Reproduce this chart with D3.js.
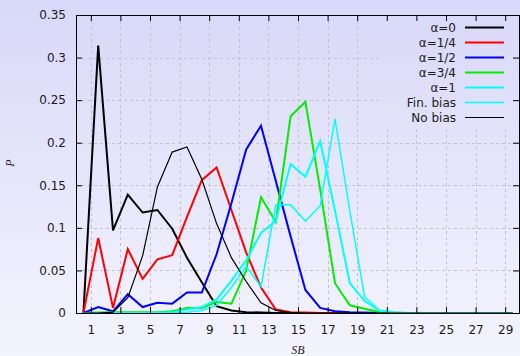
<!DOCTYPE html>
<html>
<head>
<meta charset="utf-8">
<script src="https://d3js.org/d3.v7.min.js"></script>
<style>
  body { margin: 0; }
  svg { display: block; }
  .tick text { font-family: "DejaVu Sans", sans-serif; font-size: 12px; fill: #1a1a1a; }
</style>
</head>
<body>
<div id="chart"></div>
<script>
// bin centres on the SB axis
var sb = [0.5, 1.5, 2.5, 3.5, 4.5, 5.5, 6.5, 7.5, 8.5, 9.5, 10.5, 11.5, 12.5, 13.5, 14.5,
          15.5, 16.5, 17.5, 18.5, 19.5, 20.5, 21.5, 22.5, 23.5, 24.5, 25.5, 26.5, 27.5, 28.5, 29.5];

var alpha0   = [0, 0.314, 0.097, 0.139, 0.118, 0.121, 0.099, 0.065, 0.036, 0.008, 0.003, 0.001, 0.0005, 0, 0,
                0, 0, 0, 0, 0, 0, 0, 0, 0, 0, 0, 0, 0, 0, 0];
var alpha14  = [0, 0.088, 0.006, 0.075, 0.040, 0.063, 0.068, 0.113, 0.156, 0.171, 0.121, 0.071, 0.030, 0.004, 0.001,
                0.0005, 0, 0, 0, 0, 0, 0, 0, 0, 0, 0, 0, 0, 0, 0];
var alpha12  = [0, 0.007, 0.002, 0.022, 0.007, 0.012, 0.011, 0.024, 0.024, 0.069, 0.129, 0.192, 0.220, 0.155, 0.090,
                0.027, 0.006, 0.002, 0.001, 0.0005, 0, 0, 0, 0, 0, 0, 0, 0, 0, 0];
var alpha34  = [0, 0.0005, 0.001, 0.001, 0.001, 0.001, 0.002, 0.006, 0.006, 0.013, 0.011, 0.050, 0.136, 0.107, 0.231,
                0.248, 0.145, 0.035, 0.009, 0.005, 0.001, 0, 0, 0, 0, 0, 0, 0, 0, 0];
var alpha1   = [0, 0, 0, 0, 0, 0.0005, 0.001, 0.004, 0.007, 0.016, 0.038, 0.062, 0.094, 0.108, 0.175,
                0.160, 0.202, 0.120, 0.035, 0.014, 0.003, 0.001, 0, 0, 0, 0, 0, 0, 0, 0];
var finBias  = [0, 0, 0, 0, 0, 0, 0, 0.001, 0.003, 0.009, 0.030, 0.055, 0.031, 0.127, 0.127,
                0.108, 0.126, 0.228, 0.120, 0.019, 0.003, 0.001, 0, 0, 0, 0, 0, 0, 0, 0];
var noBias   = [0, 0, 0.001, 0.018, 0.067, 0.148, 0.189, 0.195, 0.157, 0.105, 0.065, 0.037, 0.012, 0.003, 0.0005,
                0, 0, 0, 0, 0, 0, 0, 0, 0, 0, 0, 0, 0, 0, 0];

var seriesNames = ["α=0", "α=1/4", "α=1/2", "α=3/4", "α=1", "Fin. bias", "No bias"];
var xTicks = [1, 3, 5, 7, 9, 11, 13, 15, 17, 19, 21, 23, 25, 27, 29];
var yTicks = [0, 0.05, 0.1, 0.15, 0.2, 0.25, 0.3, 0.35];

var series = [
    { name: seriesNames[0], values: alpha0,  color: "#000000", width: 2 },
    { name: seriesNames[1], values: alpha14, color: "#ff0000", width: 2 },
    { name: seriesNames[2], values: alpha12, color: "#0000ff", width: 2 },
    { name: seriesNames[3], values: alpha34, color: "#00ee00", width: 2 },
    { name: seriesNames[4], values: alpha1,  color: "#00ffff", width: 2 },
    { name: seriesNames[5], values: finBias, color: "#00ffff", width: 1.5 },
    { name: seriesNames[6], values: noBias,  color: "#000000", width: 1.2 }
];

var W = 520, H = 356;
var pLeft = 76, pRight = 520, pTop = 15, pBottom = 313;

var svg = d3.select("#chart").append("svg")
    .attr("width", W)
    .attr("height", H);

// background gradient
var grad = svg.append("defs").append("linearGradient")
    .attr("id", "bg")
    .attr("gradientUnits", "userSpaceOnUse")
    .attr("x1", 0).attr("y1", 0).attr("x2", 0).attr("y2", H);
grad.append("stop").attr("offset", "0%").attr("stop-color", "#d8d8f8");
grad.append("stop").attr("offset", "100%").attr("stop-color", "#f4f4fe");

svg.append("rect")
    .attr("width", W).attr("height", H)
    .attr("fill", "url(#bg)");

var x = d3.scaleLinear().domain([0, 30]).range([pLeft, pRight]);
var y = d3.scaleLinear().domain([0, 0.35]).range([pBottom, pTop]);

// grid
var grid = svg.append("g")
    .attr("stroke", "#c2c2d2")
    .attr("stroke-width", 1)
    .attr("stroke-dasharray", "3,3");
grid.selectAll(".gx").data(xTicks).enter().append("line")
    .attr("x1", function (d) { return Math.round(x(d)) + 0.5; })
    .attr("x2", function (d) { return Math.round(x(d)) + 0.5; })
    .attr("y1", pTop).attr("y2", pBottom);
grid.selectAll(".gy").data(yTicks.slice(1, -1)).enter().append("line")
    .attr("y1", function (d) { return Math.round(y(d)) + 0.5; })
    .attr("y2", function (d) { return Math.round(y(d)) + 0.5; })
    .attr("x1", pLeft).attr("x2", pRight);

// opaque legend box
svg.append("rect")
    .attr("x", 382).attr("y", pTop + 1)
    .attr("width", pRight - 382).attr("height", 110)
    .attr("fill", "url(#bg)");

// series
var line = d3.line()
    .x(function (d, i) { return x(sb[i]); })
    .y(function (d) { return y(d); });

svg.selectAll(".series").data(series).enter().append("path")
    .attr("class", "series")
    .attr("fill", "none")
    .attr("stroke", function (d) { return d.color; })
    .attr("stroke-width", function (d) { return d.width; })
    .attr("stroke-linejoin", "miter")
    .attr("d", function (d) { return line(d.values); });

// axes (ticks pointing inward)
svg.append("g")
    .attr("transform", "translate(0," + pBottom + ")")
    .call(d3.axisBottom(x).tickValues(xTicks).tickSize(-6).tickPadding(12).tickFormat(d3.format("d")))
    .call(function (g) { g.select(".domain").remove(); });

svg.append("g")
    .attr("transform", "translate(0," + pTop + ")")
    .call(d3.axisTop(x).tickValues(xTicks).tickSize(-6).tickFormat(""))
    .call(function (g) { g.select(".domain").remove(); });

svg.append("g")
    .attr("transform", "translate(" + pLeft + ",0)")
    .call(d3.axisLeft(y).tickValues(yTicks).tickSize(-6).tickPadding(10).tickFormat(d3.format("~g")))
    .call(function (g) { g.select(".domain").remove(); });

svg.append("g")
    .attr("transform", "translate(" + (pRight - 1) + ",0)")
    .call(d3.axisRight(y).tickValues(yTicks).tickSize(-6).tickFormat(""))
    .call(function (g) { g.select(".domain").remove(); });

// frame
svg.append("rect")
    .attr("x", pLeft + 0.5).attr("y", pTop + 0.5)
    .attr("width", pRight - pLeft - 1).attr("height", pBottom - pTop)
    .attr("fill", "none")
    .attr("stroke", "#000")
    .attr("stroke-width", 1);

// axis titles
svg.append("text")
    .attr("transform", "translate(14,163) rotate(-90)")
    .attr("text-anchor", "middle")
    .attr("font-family", "'Liberation Serif', serif")
    .attr("font-style", "italic")
    .attr("font-size", 12)
    .attr("fill", "#1a1a1a")
    .text("P");

svg.append("text")
    .attr("x", 298).attr("y", 354)
    .attr("text-anchor", "middle")
    .attr("font-family", "'Liberation Serif', serif")
    .attr("font-style", "italic")
    .attr("font-size", 12)
    .attr("fill", "#1a1a1a")
    .text("SB");

// legend
var legend = svg.selectAll(".legend").data(series).enter().append("g")
    .attr("class", "legend")
    .attr("transform", function (d, i) { return "translate(0," + (27.5 + i * 15) + ")"; });

legend.append("text")
    .attr("x", 456).attr("y", 4.5)
    .attr("text-anchor", "end")
    .attr("font-family", "'DejaVu Sans', sans-serif")
    .attr("font-size", 12)
    .attr("fill", "#1a1a1a")
    .text(function (d) { return d.name; });

legend.append("line")
    .attr("x1", 465).attr("x2", 504)
    .attr("stroke", function (d) { return d.color; })
    .attr("stroke-width", function (d) { return d.width; });
</script>
</body>
</html>
